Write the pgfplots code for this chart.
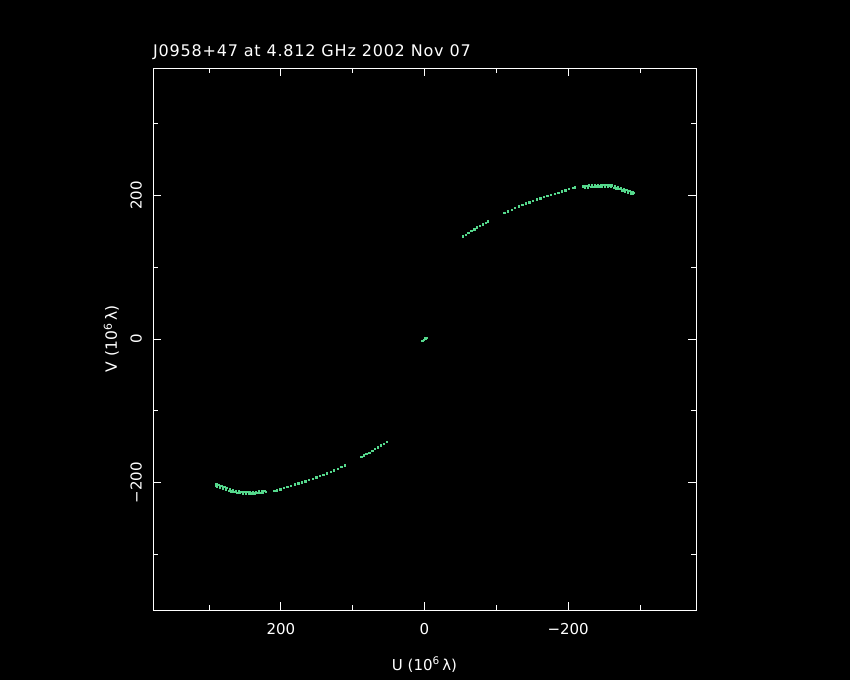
\documentclass[border=0pt]{standalone}
\usepackage{fontspec}
\setmainfont{DejaVu Sans}
\usepackage{pgfplots}
\pgfplotsset{compat=1.18}
\definecolor{uvgreen}{RGB}{85,215,140}
\newcommand{\lblfont}{\fontsize{15bp}{18bp}\selectfont}
\begin{document}
\begin{tikzpicture}
\fill[black] (0,0) rectangle (850bp,680bp);
\useasboundingbox (0,0) rectangle (850bp,680bp);
\begin{axis}[
  at={(153bp,70bp)}, anchor=south west,
  scale only axis, width=543bp, height=542bp,
  x dir=reverse,
  xmin=-378, xmax=378, ymin=-377.5, ymax=377.5,
  axis line style={white, line width=0.9bp},
  every tick/.style={white, line width=0.9bp},
  major tick length=8bp, minor tick length=5bp,
  xtick={-200,0,200}, xticklabels={−200,0,200},
  ytick={-200,0,200}, yticklabels={−200,0,200},
  minor xtick={-300,-100,100,300},
  minor ytick={-300,-100,100,300},
  xticklabel style={white, font=\lblfont, anchor=north, inner sep=0pt, inner ysep=13bp},
  yticklabel style={white, font=\lblfont, rotate=90, anchor=south, inner sep=0pt, inner ysep=11bp},
  xlabel={U (10\textsuperscript{6}\,λ)},
  ylabel={V (10\textsuperscript{6}\,λ)},
  xlabel style={white, font=\lblfont, at={(axis description cs:0.5,-0.1107)}, anchor=base, inner sep=0pt},
  ylabel style={white, font=\fontsize{15.5bp}{18bp}\selectfont, at={(axis description cs:-0.0663,0.5)}, anchor=base, rotate=0, inner sep=0pt},
  title={J0958+47 at 4.812 GHz 2002 Nov 07},
  title style={white, font=\fontsize{16bp}{19bp}\selectfont\addfontfeature{LetterSpace=5}, at={(axis description cs:0,1.0203)}, anchor=base west, inner sep=0pt, yshift=-6pt},
  clip=false,
]
% upper arc
\addplot[only marks, mark=square*, mark size=0.7bp, uvgreen] coordinates {
(-53,143) (-57,145.5) (-61,148) (-65,150.5) (-69,153) (-73,155.5) (-77,158) (-81,160) (-85,162) (-88,164)
(-111,176) (-116,178) (-121,180.5) (-126,183) (-131,185) (-136,187) (-141,189) (-146,190.7) (-151,192.5)
(-156,194.5) (-161,196) (-166,198) (-171,199.5) (-176,201) (-181,202.5) (-186,204) (-191,206) (-196,207.5)
(-201,209) (-206,210.5) (-209,211.5)
(-221,213) (-225,213.5) (-229,214) (-233,214.5) (-237,215) (-241,215) (-245,215.2) (-249,215) (-253,215)
(-257,214.5) (-261,214) (-265,213) (-269,212) (-273,211) (-277,209.5) (-281,208) (-285,206.5) (-289,205) (-291,204)
};
\addplot[only marks, mark=square*, mark size=0.7bp, uvgreen] coordinates {
(-223,211) (-227,211.5) (-231,212) (-235,212.5) (-239,213) (-243,213) (-247,213) (-251,213) (-255,212.5)
(-259,212) (-263,211) (-267,210) (-271,209) (-275,207.5) (-279,206) (-283,204.5) (-287,203) (-290,202)
};
% lower arc
\addplot[only marks, mark=square*, mark size=0.7bp, uvgreen] coordinates {
(53,-143) (57,-145.5) (61,-148) (65,-150.5) (69,-153) (73,-155.5) (77,-158) (81,-160) (85,-162) (88,-164)
(111,-176) (116,-178) (121,-180.5) (126,-183) (131,-185) (136,-187) (141,-189) (146,-190.7) (151,-192.5)
(156,-194.5) (161,-196) (166,-198) (171,-199.5) (176,-201) (181,-202.5) (186,-204) (191,-206) (196,-207.5)
(201,-209) (206,-210.5) (209,-211.5)
(221,-213) (225,-213.5) (229,-214) (233,-214.5) (237,-215) (241,-215) (245,-215.2) (249,-215) (253,-215)
(257,-214.5) (261,-214) (265,-213) (269,-212) (273,-211) (277,-209.5) (281,-208) (285,-206.5) (289,-205) (291,-204)
};
\addplot[only marks, mark=square*, mark size=0.7bp, uvgreen] coordinates {
(223,-211) (227,-211.5) (231,-212) (235,-212.5) (239,-213) (243,-213) (247,-213) (251,-213) (255,-212.5)
(259,-212) (263,-211) (267,-210) (271,-209) (275,-207.5) (279,-206) (283,-204.5) (287,-203) (290,-202)
};
% short baselines near origin
\addplot[only marks, mark=square*, mark size=0.7bp, uvgreen] coordinates {
(3,-2) (1,-1) (-1,1) (-3,2)
};
\end{axis}
\end{tikzpicture}
\end{document}
